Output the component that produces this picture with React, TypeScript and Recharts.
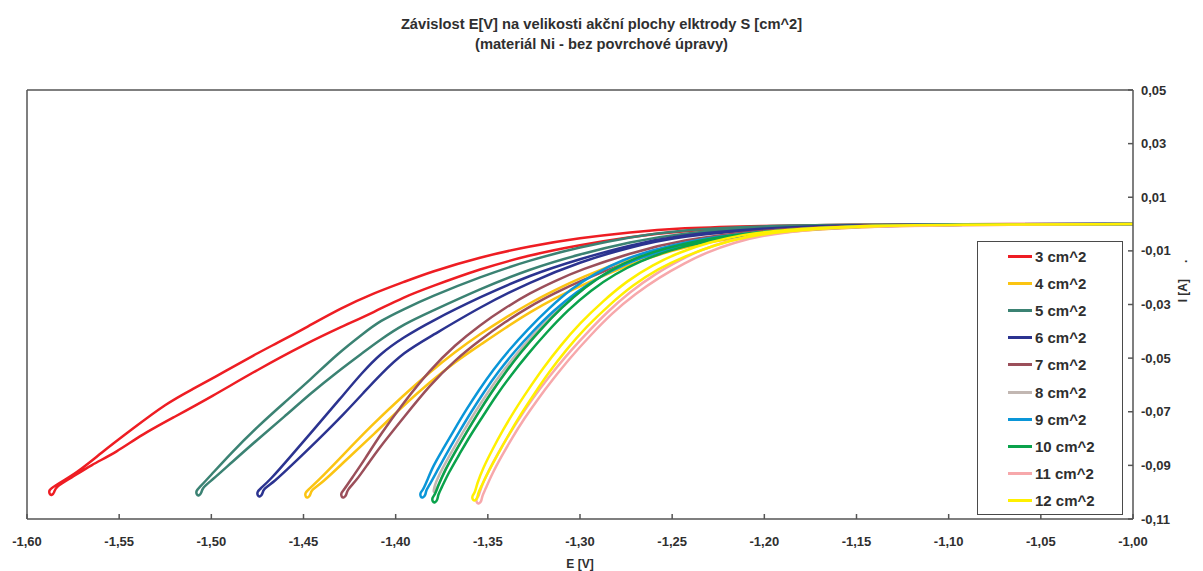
import React from 'react';
import { LineChart, Line, XAxis, YAxis, ReferenceLine, Legend } from 'recharts';

type Pt = [number, number];

const E_TICKS = [-1.6, -1.55, -1.5, -1.45, -1.4, -1.35, -1.3, -1.25, -1.2, -1.15, -1.1, -1.05, -1.0];
const I_TICKS = [-0.11, -0.09, -0.07, -0.05, -0.03, -0.01, 0.01, 0.03, 0.05];

const s3: Pt[] = [
  [-1.0, 0.0], [-1.0992, 0.0], [-1.1535, -0.0002], [-1.2023, -0.0006], [-1.2457, -0.0015], [-1.2729, -0.003], [-1.3, -0.0052], [-1.3271, -0.0082], [-1.3542, -0.0123], [-1.3814, -0.0179], [-1.3955, -0.0216], [-1.4117, -0.0257], [-1.4296, -0.0313], [-1.4481, -0.0384], [-1.4644, -0.0444], [-1.4768, -0.0488], [-1.4931, -0.0552], [-1.511, -0.0619], [-1.524, -0.0667], [-1.5436, -0.0768], [-1.5599, -0.0854], [-1.5729, -0.0928],
  [-1.5865, -0.0982], [-1.5881, -0.0993], [-1.5878, -0.1008], [-1.5865, -0.1012], [-1.5851, -0.1001], [-1.5848, -0.0982],
  [-1.5761, -0.0947], [-1.5653, -0.0899], [-1.5512, -0.085], [-1.5382, -0.0787], [-1.5202, -0.072], [-1.5002, -0.0645], [-1.4752, -0.0544], [-1.4481, -0.0444], [-1.4296, -0.0384], [-1.4117, -0.0328], [-1.3955, -0.0272], [-1.3814, -0.0235], [-1.3542, -0.0167], [-1.3271, -0.0115], [-1.3, -0.0078], [-1.2729, -0.0048], [-1.2457, -0.0026], [-1.2023, -0.0011], [-1.1535, -0.0004], [-1.0992, -0.0001], [-1.0, 0.0],
];

const s4: Pt[] = [
  [-1.0, 0], [-1.0992, -0.0002], [-1.1535, -0.0007], [-1.2023, -0.0026], [-1.2457, -0.0067], [-1.2729, -0.0127], [-1.3, -0.0201], [-1.3135, -0.0246], [-1.3271, -0.0294], [-1.3407, -0.035], [-1.3542, -0.041], [-1.3678, -0.0477], [-1.3814, -0.0552], [-1.3955, -0.0637], [-1.4134, -0.0753], [-1.4296, -0.0869], [-1.4421, -0.0958],
  [-1.4476, -0.0992], [-1.4492, -0.1003], [-1.4489, -0.1018], [-1.4476, -0.1022], [-1.4462, -0.1011], [-1.4459, -0.0992],
  [-1.44, -0.0966], [-1.428, -0.0887], [-1.4117, -0.0783], [-1.3955, -0.0675], [-1.3814, -0.0589], [-1.3678, -0.0514], [-1.3542, -0.0451], [-1.3407, -0.0388], [-1.3271, -0.0328], [-1.3135, -0.0276], [-1.3, -0.0231], [-1.2729, -0.0149], [-1.2457, -0.0086], [-1.2023, -0.0034], [-1.1535, -0.0011], [-1.0992, -0.0003], [-1.0, 0],
];

const s5: Pt[] = [
  [-1.0, 0], [-1.0992, -0.0001], [-1.1535, -0.0002], [-1.2023, -0.0007], [-1.2457, -0.0022], [-1.2729, -0.0048], [-1.3, -0.0086], [-1.3271, -0.0134], [-1.3542, -0.0197], [-1.3814, -0.0272], [-1.3955, -0.0317], [-1.4085, -0.0361], [-1.4172, -0.0406], [-1.4318, -0.0485], [-1.4459, -0.0578], [-1.4606, -0.0667], [-1.4752, -0.0757], [-1.4893, -0.0854], [-1.5007, -0.094],
  [-1.5067, -0.0984], [-1.5083, -0.0995], [-1.508, -0.101], [-1.5067, -0.1014], [-1.5053, -0.1003], [-1.505, -0.0984],
  [-1.4996, -0.0955], [-1.4893, -0.0891], [-1.4752, -0.0805], [-1.4606, -0.072], [-1.4459, -0.063], [-1.4318, -0.0552], [-1.4172, -0.0477], [-1.4085, -0.0432], [-1.3955, -0.0373], [-1.3814, -0.0328], [-1.3542, -0.0242], [-1.3271, -0.0167], [-1.3, -0.0112], [-1.2729, -0.0067], [-1.2457, -0.0034], [-1.2023, -0.0013], [-1.1535, -0.0004], [-1.0992, -0.0001], [-1.0, 0],
];

const s6: Pt[] = [
  [-1.0, 0], [-1.0992, -0.0001], [-1.1535, -0.0004], [-1.2023, -0.0015], [-1.2457, -0.0041], [-1.2729, -0.0078], [-1.3, -0.013], [-1.3271, -0.019], [-1.3542, -0.0272], [-1.3814, -0.0365], [-1.3955, -0.0421], [-1.4085, -0.0484], [-1.4183, -0.0555], [-1.4302, -0.0652], [-1.4438, -0.0761], [-1.4573, -0.0869], [-1.4682, -0.0955],
  [-1.4736, -0.0988], [-1.4752, -0.0999], [-1.4749, -0.1014], [-1.4736, -0.1018], [-1.4722, -0.1007], [-1.4719, -0.0988],
  [-1.466, -0.0962], [-1.4568, -0.0902], [-1.4427, -0.0809], [-1.428, -0.0708], [-1.4166, -0.0623], [-1.4085, -0.0563], [-1.3955, -0.0477], [-1.3814, -0.0421], [-1.3542, -0.0309], [-1.3271, -0.0216], [-1.3, -0.0141], [-1.2729, -0.0086], [-1.2457, -0.0045], [-1.2023, -0.0019], [-1.1535, -0.0006], [-1.0992, -0.0001], [-1.0, 0],
];

const s7: Pt[] = [
  [-1.0, 0], [-1.0992, -0.0001], [-1.1535, -0.0006], [-1.2023, -0.0022], [-1.2457, -0.006], [-1.2729, -0.0108], [-1.3, -0.0171], [-1.3135, -0.0212], [-1.3271, -0.0257], [-1.3407, -0.0313], [-1.3542, -0.0376], [-1.3678, -0.0451], [-1.3814, -0.0544], [-1.3955, -0.0664], [-1.4085, -0.0787], [-1.4166, -0.0876], [-1.4237, -0.0947],
  [-1.4281, -0.0992], [-1.4297, -0.1003], [-1.4294, -0.1018], [-1.4281, -0.1022], [-1.4267, -0.1011], [-1.4264, -0.0992],
  [-1.4215, -0.0958], [-1.4155, -0.0899], [-1.4085, -0.0831], [-1.3955, -0.072], [-1.3814, -0.06], [-1.3678, -0.0507], [-1.3542, -0.0432], [-1.3407, -0.0365], [-1.3271, -0.0306], [-1.3135, -0.0257], [-1.3, -0.0212], [-1.2729, -0.0138], [-1.2457, -0.0078], [-1.2023, -0.003], [-1.1535, -0.0009], [-1.0992, -0.0002], [-1.0, 0],
];

const s8: Pt[] = [
  [-1.0, 0], [-1.0992, -0.0002], [-1.1535, -0.0007], [-1.2088, -0.0034], [-1.236, -0.0067], [-1.2566, -0.0097], [-1.2718, -0.0138], [-1.2859, -0.0182], [-1.2994, -0.0242], [-1.3119, -0.0317], [-1.3238, -0.0399], [-1.3336, -0.0477], [-1.3423, -0.0552], [-1.3499, -0.0626], [-1.3569, -0.0701], [-1.3635, -0.0776], [-1.3694, -0.0846], [-1.3749, -0.0914], [-1.3792, -0.0977], [-1.3797, -0.101],
  [-1.377, -0.0977], [-1.3732, -0.0917], [-1.3678, -0.085], [-1.3618, -0.0779], [-1.3553, -0.0705], [-1.3483, -0.063], [-1.3407, -0.0555], [-1.332, -0.0477], [-1.3217, -0.0395], [-1.3097, -0.0309], [-1.2973, -0.0235], [-1.2837, -0.0171], [-1.2701, -0.0127], [-1.2539, -0.009], [-1.2349, -0.006], [-1.2078, -0.003], [-1.1535, -0.0007], [-1.0992, -0.0002], [-1.0, 0],
];

const s9: Pt[] = [
  [-1.0, 0], [-1.0992, -0.0001], [-1.1535, -0.0007], [-1.2132, -0.0034], [-1.2403, -0.0063], [-1.2609, -0.0097], [-1.2772, -0.0134], [-1.2913, -0.0182], [-1.3049, -0.0242], [-1.3173, -0.0317], [-1.3287, -0.0395], [-1.3385, -0.047], [-1.3472, -0.0544], [-1.3548, -0.0619], [-1.3618, -0.0693], [-1.3683, -0.0768], [-1.3743, -0.0839], [-1.3797, -0.0902], [-1.383, -0.0958],
  [-1.3852, -0.0992], [-1.3868, -0.1003], [-1.3865, -0.1018], [-1.3852, -0.1022], [-1.3838, -0.1011], [-1.3835, -0.0992],
  [-1.3819, -0.0977], [-1.377, -0.0914], [-1.3716, -0.0846], [-1.3656, -0.0776], [-1.3591, -0.0701], [-1.3521, -0.0626], [-1.3445, -0.0552], [-1.3358, -0.0477], [-1.326, -0.0403], [-1.3146, -0.0324], [-1.3021, -0.0253], [-1.2886, -0.0194], [-1.2745, -0.0145], [-1.2582, -0.0104], [-1.2376, -0.0071], [-1.2105, -0.0037], [-1.1535, -0.0007], [-1.0992, -0.0002], [-1.0, 0],
];

const s10: Pt[] = [
  [-1.0, 0], [-1.0992, -0.0002], [-1.1535, -0.0007], [-1.2078, -0.003], [-1.2349, -0.006], [-1.2539, -0.009], [-1.2701, -0.0127], [-1.2837, -0.0171], [-1.2973, -0.0235], [-1.3097, -0.0309], [-1.3217, -0.0395], [-1.332, -0.0477], [-1.3407, -0.0555], [-1.3483, -0.063], [-1.3553, -0.0705], [-1.3618, -0.0779], [-1.3678, -0.085], [-1.3732, -0.0917], [-1.377, -0.0977],
  [-1.3787, -0.101], [-1.3803, -0.1021], [-1.38, -0.1036], [-1.3787, -0.104], [-1.3773, -0.1029], [-1.377, -0.101],
  [-1.3754, -0.0988], [-1.3711, -0.0925], [-1.3656, -0.0861], [-1.3597, -0.079], [-1.3526, -0.0716], [-1.3456, -0.0641], [-1.3374, -0.0563], [-1.3287, -0.0488], [-1.3184, -0.0406], [-1.3065, -0.032], [-1.294, -0.0246], [-1.281, -0.0186], [-1.2674, -0.0138], [-1.2512, -0.0097], [-1.2322, -0.0063], [-1.205, -0.0034], [-1.1535, -0.0009], [-1.0992, -0.0002], [-1.0, 0],
];

const s11: Pt[] = [
  [-1.0, 0], [-1.0992, -0.0003], [-1.1535, -0.0009], [-1.1806, -0.0019], [-1.2023, -0.0037], [-1.2186, -0.006], [-1.2349, -0.0097], [-1.2457, -0.0134], [-1.2593, -0.0186], [-1.2729, -0.0253], [-1.2853, -0.0328], [-1.2973, -0.0414], [-1.3081, -0.0496], [-1.3173, -0.0574], [-1.3255, -0.0649], [-1.3325, -0.072], [-1.339, -0.079], [-1.345, -0.0861], [-1.3499, -0.0925], [-1.3537, -0.0981],
  [-1.3548, -0.1014], [-1.3564, -0.1025], [-1.3561, -0.104], [-1.3548, -0.1044], [-1.3534, -0.1033], [-1.3531, -0.1014],
  [-1.3515, -0.0992], [-1.3477, -0.0932], [-1.3428, -0.0869], [-1.3369, -0.0798], [-1.3304, -0.0727], [-1.3228, -0.0652], [-1.3146, -0.0578], [-1.3054, -0.0499], [-1.2946, -0.0417], [-1.2826, -0.0332], [-1.2701, -0.0261], [-1.2566, -0.0197], [-1.243, -0.0145], [-1.2322, -0.0108], [-1.2159, -0.0067], [-1.1996, -0.0041], [-1.1806, -0.0024], [-1.1535, -0.0011], [-1.0992, -0.0004], [-1.0, 0],
];

const s12: Pt[] = [
  [-1.0, 0], [-1.0992, -0.0002], [-1.1535, -0.0007], [-1.1915, -0.0022], [-1.2132, -0.0041], [-1.2295, -0.0067], [-1.2457, -0.0104], [-1.2609, -0.0153], [-1.2745, -0.0212], [-1.2875, -0.0287], [-1.3, -0.0369], [-1.3108, -0.0455], [-1.32, -0.0537], [-1.3282, -0.0619], [-1.3353, -0.0693], [-1.3418, -0.0768], [-1.3477, -0.0843], [-1.3526, -0.091], [-1.3559, -0.0969],
  [-1.357, -0.1003], [-1.3586, -0.1014], [-1.3583, -0.1029], [-1.357, -0.1033], [-1.3556, -0.1022], [-1.3553, -0.1003],
  [-1.3537, -0.0981], [-1.3499, -0.0925], [-1.3445, -0.0858], [-1.3385, -0.0783], [-1.332, -0.0708], [-1.3249, -0.0634], [-1.3168, -0.0552], [-1.3076, -0.047], [-1.2967, -0.0384], [-1.2842, -0.0302], [-1.2712, -0.0227], [-1.2577, -0.0167], [-1.243, -0.0119], [-1.2267, -0.0078], [-1.2105, -0.0048], [-1.1888, -0.0026], [-1.1535, -0.0009], [-1.0992, -0.0002], [-1.0, 0],
];

const NAMES = ['3 cm^2', '4 cm^2', '5 cm^2', '6 cm^2', '7 cm^2', '8 cm^2', '9 cm^2', '10 cm^2', '11 cm^2', '12 cm^2'];
const COLORS = ['#EE1D23', '#FBC412', '#3B8273', '#2B3390', '#9B4F5A', '#C2B7B2', '#0A96D8', '#0AA24B', '#F7A8AB', '#FFF000'];
const VALUES = [s3, s4, s5, s6, s7, s8, s9, s10, s11, s12];

const SERIES = VALUES.map((pts, k) => ({
  name: NAMES[k],
  color: COLORS[k],
  data: pts.map(([e, i]) => ({ e, i })),
}));

const FONT = '"Liberation Sans", Arial, Helvetica, sans-serif';
const TEXT = '#2f2f2f';
const AXIS = '#555555';

const fmt = (v: number) => v.toFixed(2).replace('.', ',');

function LegendBox() {
  return (
    <div
      style={{
        width: 144,
        height: 272,
        border: '1px solid #4a4a4a',
        background: '#fff',
        position: 'relative',
        fontFamily: FONT,
        fontWeight: 'bold',
        fontSize: 15,
        color: TEXT,
      }}
    >
      {SERIES.map((s, k) => (
        <div
          key={s.name}
          style={{
            position: 'absolute',
            left: 30,
            top: 14 + k * 27.2 - 9,
            height: 18,
            display: 'flex',
            alignItems: 'center',
            whiteSpace: 'nowrap',
          }}
        >
          <span style={{ display: 'inline-block', width: 24, height: 3, background: s.color, marginRight: 3 }} />
          <span>{s.name}</span>
        </div>
      ))}
    </div>
  );
}

export default function App() {
  return (
    <div style={{ position: 'absolute', left: 0, top: 0, width: 1203, height: 571, background: '#fff', fontFamily: FONT }}>
      <div
        style={{
          position: 'absolute',
          left: 0,
          top: 14,
          width: 1203,
          textAlign: 'center',
          fontWeight: 'bold',
          fontSize: 14.7,
          lineHeight: '20px',
          color: TEXT,
        }}
      >
        <div>Závislost E[V] na velikosti akční plochy elktrody S [cm^2]</div>
        <div>(materiál Ni - bez povrchové úpravy)</div>
      </div>
      <LineChart width={1203} height={571} margin={{ top: 90, right: 0, bottom: 0, left: 27 }}>
        <XAxis
          type="number"
          dataKey="e"
          domain={[-1.6, -1.0]}
          ticks={E_TICKS}
          interval={0}
          allowDataOverflow
          tickFormatter={fmt}
          height={52}
          tickSize={-5}
          tickMargin={23}
          stroke={AXIS}
          strokeWidth={1.5}
          tick={{ fill: TEXT, fontSize: 13, fontWeight: 'bold', fontFamily: FONT }}
          label={{ value: 'E [V]', position: 'insideBottom', offset: 3, fill: TEXT, fontSize: 12, fontWeight: 'bold', fontFamily: FONT }}
        />
        <YAxis
          type="number"
          dataKey="i"
          orientation="right"
          domain={[-0.11, 0.05]}
          ticks={I_TICKS}
          interval={0}
          allowDataOverflow
          tickFormatter={fmt}
          width={70}
          tickSize={-5}
          tickMargin={13}
          stroke={AXIS}
          strokeWidth={1.5}
          tick={{ fill: TEXT, fontSize: 13, fontWeight: 'bold', fontFamily: FONT }}
          label={(props: any) => {
            const vb = props.viewBox || {};
            const cx = (vb.x ?? 1133) + 50;
            const cy = 281;
            return (
              <text
                x={cx}
                y={cy}
                transform={`rotate(-90 ${cx} ${cy})`}
                textAnchor="middle"
                dominantBaseline="central"
                fill={TEXT}
                fontSize={12}
                fontWeight="bold"
                fontFamily={FONT}
              >
                I [A]
                <tspan dx={16}>.</tspan>
              </text>
            );
          }}
        />
        <ReferenceLine y={0.05} stroke={AXIS} strokeWidth={1.5} />
        <ReferenceLine x={-1.6} stroke={AXIS} strokeWidth={1.5} />
        {SERIES.map((s) => (
          <Line
            key={s.name}
            name={s.name}
            data={s.data}
            dataKey="i"
            type="basis"
            stroke={s.color}
            strokeWidth={2.5}
            dot={false}
            activeDot={false}
            isAnimationActive={false}
          />
        ))}
        <Legend
          layout="vertical"
          align="center"
          verticalAlign="middle"
          wrapperStyle={{ left: 977, top: 241, width: 146, height: 274 }}
          content={() => <LegendBox />}
        />
      </LineChart>
    </div>
  );
}
